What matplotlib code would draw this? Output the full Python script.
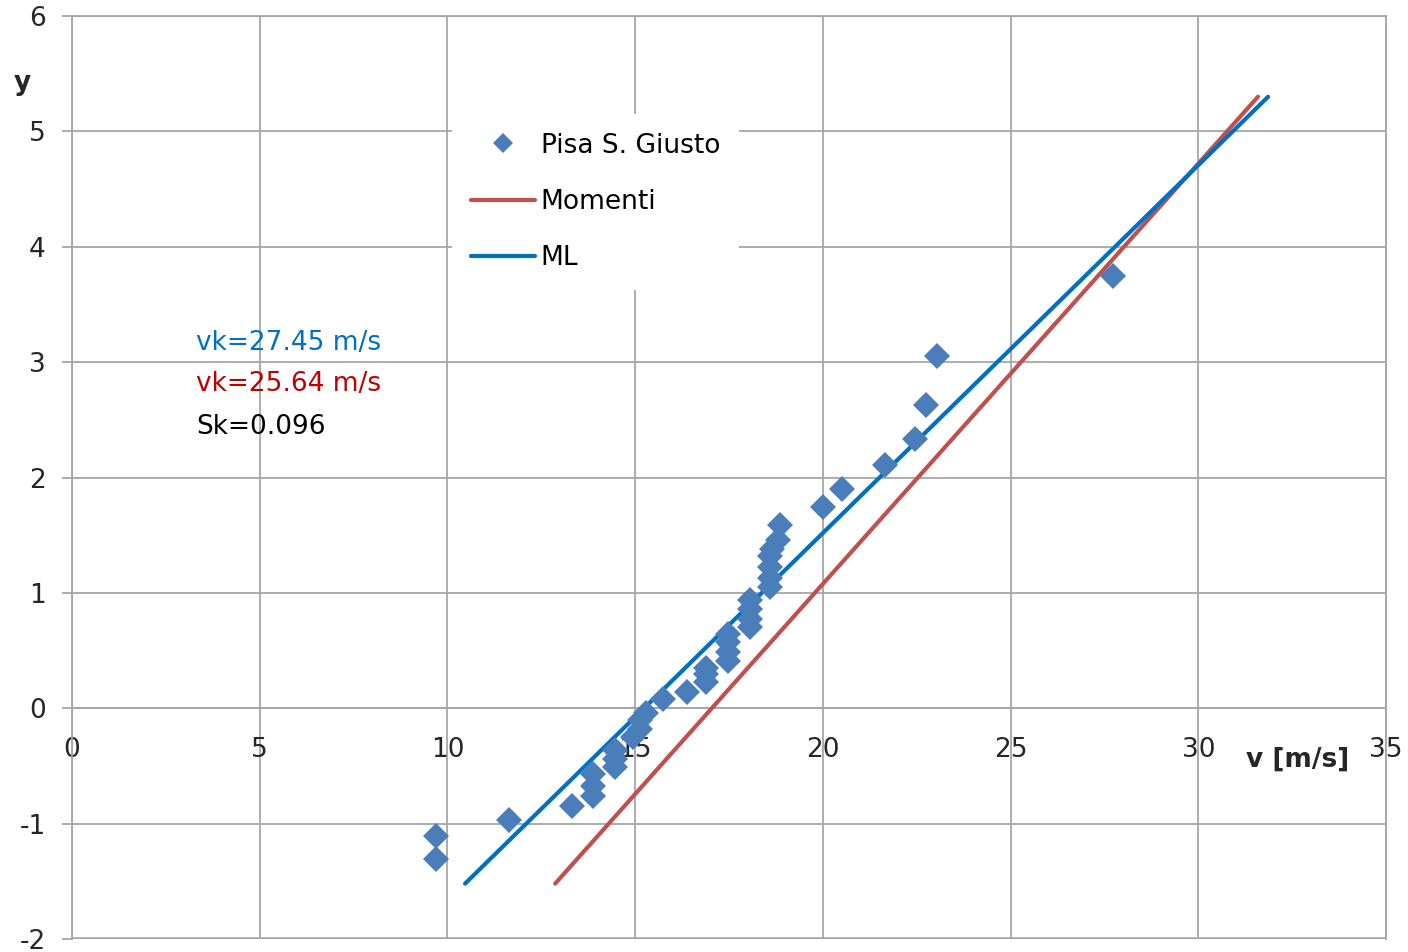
import matplotlib
matplotlib.use("Agg")
import matplotlib.pyplot as plt

plt.rcParams['font.family'] = ['DejaVu Sans']
plt.rcParams['axes.unicode_minus'] = False

# Observed data (v [m/s], reduced variate y)
obs_v = [9.70, 9.70, 11.64, 13.32, 13.88, 13.88, 13.88, 14.46, 14.46, 14.46,
         14.95, 15.13, 15.13, 15.30, 15.74, 16.38, 16.90, 16.90, 16.90,
         17.47, 17.47, 17.47, 17.47, 18.06, 18.06, 18.06, 18.06,
         18.59, 18.59, 18.59, 18.59, 18.65, 18.81, 18.86,
         20.00, 20.50, 21.66, 22.46, 22.75, 23.04, 27.73]
obs_y = [-1.11, -1.31, -0.97, -0.85, -0.76, -0.67, -0.57, -0.51, -0.44, -0.36,
         -0.25, -0.18, -0.10, -0.04, 0.08, 0.14, 0.23, 0.30, 0.35,
         0.41, 0.49, 0.57, 0.64, 0.70, 0.77, 0.86, 0.94,
         1.05, 1.13, 1.22, 1.32, 1.38, 1.46, 1.59,
         1.74, 1.90, 2.11, 2.33, 2.63, 3.05, 3.75]

# Fitted Gumbel lines (endpoints)
mom_v = [12.87, 31.59]
mom_y = [-1.52, 5.30]
ml_v = [10.47, 31.86]
ml_y = [-1.52, 5.30]

xticks = [0, 5, 10, 15, 20, 25, 30, 35]
yticks = [-2, -1, 0, 1, 2, 3, 4, 5, 6]

grid_c = '#a6a6a6'
fs = 19

fig = plt.figure(figsize=(14.08, 9.52), dpi=100)
ax = fig.add_axes([72/1408, 1-939/952, (1386-72)/1408, (939-16)/952])

ax.set_xlim(0, 35)
ax.set_ylim(-2, 6)
ax.set_xticks(xticks)
ax.set_yticks(yticks)
ax.grid(True, color=grid_c, lw=1.3, zorder=0)
ax.set_axisbelow(True)
for s in ['top', 'right', 'left']:
    ax.spines[s].set_color(grid_c)
    ax.spines[s].set_linewidth(1.3)
ax.spines['bottom'].set_position(('data', 0))
ax.spines['bottom'].set_color(grid_c)
ax.spines['bottom'].set_linewidth(1.3)
ax.axhline(-2, color=grid_c, lw=2.6, clip_on=True, zorder=0)

ax.tick_params(axis='y', length=7, width=1.3, color=grid_c, pad=12,
               labelsize=fs, labelcolor='#262626')
ax.tick_params(axis='x', length=0, pad=21, labelsize=fs, labelcolor='#262626')

ax.plot(mom_v, mom_y, color='#c0504d', lw=3, solid_capstyle='round',
        label='Momenti', zorder=3)
ax.plot(ml_v, ml_y, color='#0070c0', lw=3, solid_capstyle='round',
        label='ML', zorder=3)
ax.plot(obs_v, obs_y, linestyle='none', marker='D', markersize=13.5,
        color='#4a7ebb', markeredgewidth=0, label='Pisa S. Giusto', zorder=4)

h, l = ax.get_legend_handles_labels()
order = [2, 0, 1]
leg = ax.legend([h[i] for i in order], [l[i] for i in order],
                loc='upper left', bbox_to_anchor=(0.2793, 0.908),
                frameon=True, fancybox=False, framealpha=1, edgecolor='white',
                fontsize=fs, handlelength=2.45, handletextpad=0.2,
                labelspacing=1.15, markerscale=0.75, borderpad=0.7)
leg.get_frame().set_linewidth(0)

ax.text(3.3, 3.17, 'vk=27.45 m/s', color='#0070c0', fontsize=fs, va='center', ha='left')
ax.text(3.3, 2.81, 'vk=25.64 m/s', color='#c00000', fontsize=fs, va='center', ha='left')
ax.text(3.3, 2.44, 'Sk=0.096', color='black', fontsize=fs, va='center', ha='left')

fig.text(22/1408, 1-83/952, 'y', fontsize=fs, fontweight='bold',
         ha='center', va='center', color='#262626')
fig.text(1298/1408, 1-760/952, 'v [m/s]', fontsize=fs, fontweight='bold',
         ha='center', va='center', color='#262626')

fig.savefig('out.png', dpi=100, facecolor='white')
